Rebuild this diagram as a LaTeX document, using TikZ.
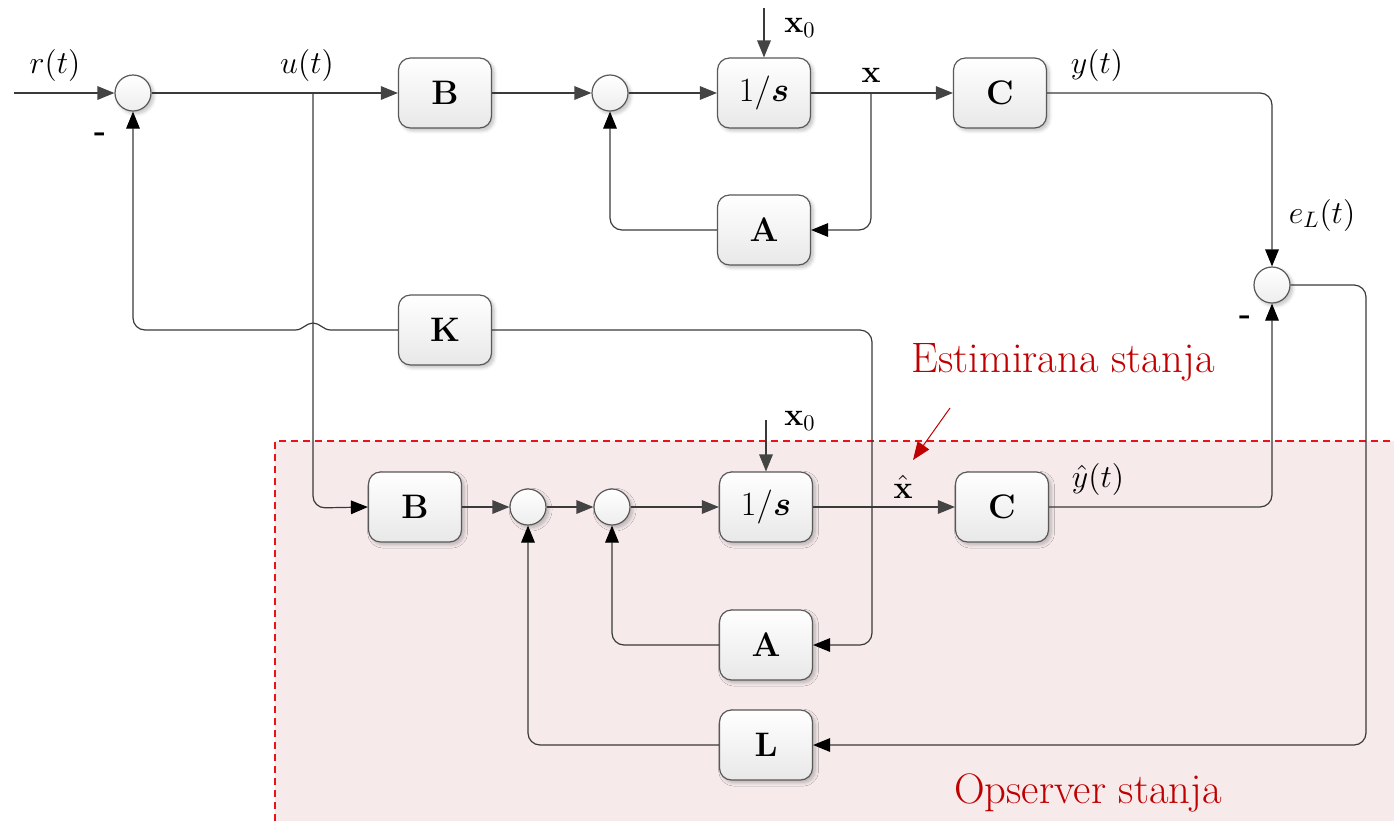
\documentclass[tikz,border=0pt]{standalone}
\usepackage{fix-cm}
\usepackage{bm}
\usetikzlibrary{arrows.meta,shadows.blur}
\definecolor{wirec}{HTML}{3A3A3A}
\definecolor{edgec}{HTML}{595959}
\definecolor{tipgray}{HTML}{444444}
\definecolor{obsfill}{HTML}{F6EAEB}
\definecolor{obsedge}{HTML}{E8141C}
\definecolor{notered}{HTML}{C00000}
\begin{document}
\begin{tikzpicture}[x=0.5pt,y=-0.5pt,
  softshadow/.style={blur shadow={shadow xshift=1.3pt,shadow yshift=-1.3pt,shadow blur steps=6,shadow opacity=25}},
  blk/.style={draw=edgec,line width=0.6pt,rounded corners=6pt,minimum width=46.5pt,minimum height=35pt,
    inner sep=0pt,top color=white,bottom color=black!9,softshadow,font=\fontsize{17}{20}\selectfont},
  sumc/.style={circle,draw=edgec,line width=0.6pt,minimum size=18pt,inner sep=0pt,
    top color=white,bottom color=black!7,softshadow},
  wire/.style={draw=wirec,line width=0.6pt},
  fwd/.style={wire,-{Triangle[length=8.5pt,width=6.8pt,color=tipgray]}},
  fbtip/.style={wire,-{Triangle[length=8.5pt,width=6.8pt,color=black]}},
  fb/.style={fbtip,rounded corners=6pt},
  lbl/.style={inner sep=0pt,font=\fontsize{16}{19}\selectfont},
  note/.style={inner sep=0pt,text=notered,font=\fontsize{21.3}{25}\selectfont}]

\useasboundingbox (0,0) rectangle (1394,821);

% observer region
\fill[obsfill] (275,441) rectangle (1394,821);
\draw[obsedge,line width=0.6pt,dash pattern=on 3.5pt off 2.5pt] (275,821) -- (275,441) -- (1394,441);

% plant
\node[sumc] (s1) at (133,93) {};
\node[blk]  (B1) at (445,93) {$\mathbf{B}$};
\node[sumc] (s2) at (610,93) {};
\node[blk]  (I1) at (764,93) {$1/\bm{s}$};
\node[blk]  (C1) at (1000,93) {$\mathbf{C}$};
\node[blk]  (A1) at (764,230) {$\mathbf{A}$};
\node[blk]  (K)  at (445,330) {$\mathbf{K}$};
\node[sumc] (s3) at (1272,285) {};

% observer
\node[blk]  (B2) at (415,507) {$\mathbf{B}$};
\node[sumc] (s4) at (528,507) {};
\node[sumc] (s5) at (612,507) {};
\node[blk]  (I2) at (766,507) {$1/\bm{s}$};
\node[blk]  (C2) at (1002,507) {$\mathbf{C}$};
\node[blk]  (A2) at (766,645) {$\mathbf{A}$};
\node[blk]  (L)  at (766,745) {$\mathbf{L}$};

% free ends and branch points
\coordinate (rin) at (14,93);
\coordinate (ub)  at (313,93);
\coordinate (xb)  at (871,93);
\coordinate (x0a) at (764,8);
\coordinate (x0b) at (766,420);

% forward paths
\draw[fwd] (rin) -- (s1);
\draw[fwd] (s1) -- (B1);
\draw[fwd] (B1) -- (s2);
\draw[fwd] (s2) -- (I1);
\draw[fwd] (I1) -- (C1);
\draw[fwd] (x0a) -- (I1.north);
\draw[fwd] (B2) -- (s4);
\draw[fwd] (s4) -- (s5);
\draw[fwd] (s5) -- (I2);
\draw[fwd] (I2) -- (C2);
\draw[fwd] (x0b) -- (I2.north);

% feedback and cross paths
\draw[fb] (C1.east) -- (1272,93) -- (s3.north);
\draw[fb] (xb) -- (871,230) -- (A1.east);
\draw[fb] (A1.west) -- (610,230) -- (s2.south);
% K feedback hops over the u(t) line
\draw[fbtip] (K.west) -- (331,330) .. controls (323,330) and (320,323) .. (313,323)
  .. controls (306,323) and (303,330) .. (295,330) [rounded corners=6pt] -- (133,330) -- (s1.south);
\draw[fb] (K.east) -- (872,330) -- (872,645) -- (A2.east);
\draw[fb] (ub) -- (313,508) -- (B2.west);
\draw[fb] (C2.east) -- (1272,507) -- (s3.south);
\draw[fb] (s3.east) -- (1366,285) -- (1366,745) -- (L.east);
\draw[fb] (A2.west) -- (612,645) -- (s5.south);
\draw[fb] (L.west) -- (528,745) -- (s4.south);

% signal labels
\node[lbl] (lr)  at (55,65)    {$r(t)$};
\node[lbl] (lu)  at (307,65)   {$u(t)$};
\node[lbl] (lm1) at (100,137)  {\textbf{-}};
\node[lbl] (lx0) at (800,28)   {$\mathbf{x}_0$};
\node[lbl] (lx)  at (871,75)   {$\mathbf{x}$};
\node[lbl] (ly)  at (1097,65)  {$y(t)$};
\node[lbl] (le)  at (1322,215) {$e_L(t)$};
\node[lbl] (lm2) at (1245,320) {\textbf{-}};
\node[lbl] (lx0b) at (800,421) {$\mathbf{x}_0$};
\node[lbl] (lxh) at (903,487)  {$\hat{\mathbf{x}}$};
\node[lbl] (lyh) at (1098,479) {$\hat{y}(t)$};

% notes
\node[note] (est) at (1063,362) {Estimirana stanja};
\node[note] (obs) at (1088,793) {Opserver stanja};
\coordinate (estA) at (950,408);
\coordinate (estB) at (913,460);
\draw[notered,line width=0.5pt,-{Triangle[length=9pt,width=7pt]}] (estA) -- (estB);

\end{tikzpicture}
\end{document}
